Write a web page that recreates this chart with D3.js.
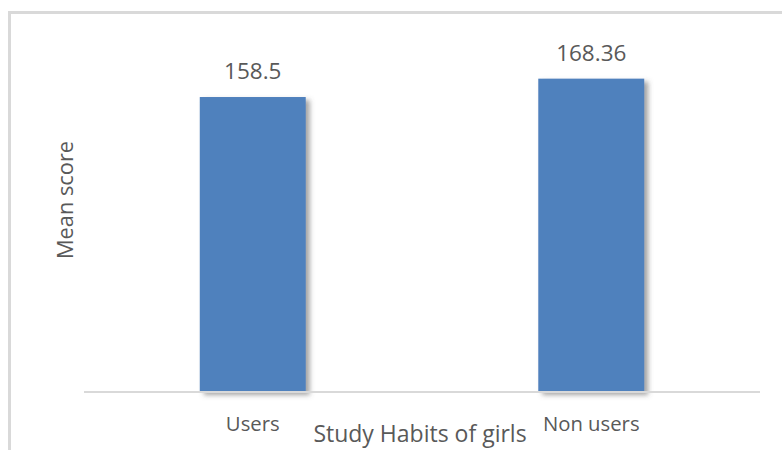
<!DOCTYPE html>
<html>
<head>
<meta charset="utf-8">
<script src="https://cdn.jsdelivr.net/npm/d3@7"></script>
<style>
  html, body { margin: 0; padding: 0; background: #fff; }
  svg { display: block; }
  text { font-family: "Open Sans", "Noto Sans", sans-serif; fill: #595959; }
</style>
</head>
<body>
<script>
// Mean score of study habits of girls, by group
const categories = ["Users", "Non users"];
const meanScores = [158.5, 168.36];
const xAxisTitle = "Study Habits of girls";
const yAxisTitle = "Mean score";

const W = 782, H = 450;
const plot = { left: 84, right: 760, top: 57, bottom: 392 };

const svg = d3.select("body").append("svg")
  .attr("width", W).attr("height", H);

// soft shadow cast to the right of each bar
const defs = svg.append("defs");
const f = defs.append("filter").attr("id", "barShadow")
  .attr("x", "-10%").attr("y", "-10%").attr("width", "130%").attr("height", "130%");
f.append("feDropShadow")
  .attr("dx", 4).attr("dy", 3).attr("stdDeviation", 2.8)
  .attr("flood-color", "#5a5a5a").attr("flood-opacity", 0.55);

// chart frame
svg.append("rect")
  .attr("x", 9.5).attr("y", 12.5)
  .attr("width", 900).attr("height", 600)
  .attr("fill", "none").attr("stroke", "#d9d9d9").attr("stroke-width", 3);

const x = d3.scaleBand()
  .domain(categories)
  .range([plot.left, plot.right])
  .paddingInner(0.687)
  .paddingOuter(0.342);

const y = d3.scaleLinear()
  .domain([0, 180])
  .range([plot.bottom, plot.top]);

const data = categories.map((c, i) => ({ cat: c, val: meanScores[i] }));

// bars
svg.append("g").selectAll("rect")
  .data(data).join("rect")
  .attr("x", d => x(d.cat))
  .attr("y", d => y(d.val))
  .attr("width", x.bandwidth())
  .attr("height", d => y(0) - y(d.val))
  .attr("fill", "#4f81bd")
  .attr("filter", "url(#barShadow)");

// category axis
const xAxis = svg.append("g")
  .attr("transform", `translate(0,${plot.bottom})`)
  .call(d3.axisBottom(x).tickSize(0).tickPadding(0));
xAxis.select(".domain").attr("stroke", "#d9d9d9").attr("stroke-width", 2)
  .attr("d", `M${plot.left},0H${plot.right}`);
xAxis.selectAll("text")
  .attr("dy", null)
  .attr("y", 39)
  .style("font-size", "20.3px")
  .style("font-family", "'Open Sans', sans-serif")
  .attr("fill", "#595959");

// value labels
svg.append("g").selectAll("text")
  .data(data).join("text")
  .attr("x", d => x(d.cat) + x.bandwidth() / 2)
  .attr("y", d => y(d.val) - 18)
  .attr("text-anchor", "middle")
  .style("font-size", "22.5px")
  .text(d => d.val);

// axis titles
svg.append("text")
  .attr("x", 420).attr("y", 442)
  .attr("text-anchor", "middle")
  .style("font-size", "23px")
  .text(xAxisTitle);

svg.append("text")
  .attr("transform", "translate(73,200) rotate(-90)")
  .attr("text-anchor", "middle")
  .style("font-size", "21.8px")
  .text(yAxisTitle);
</script>
</body>
</html>
